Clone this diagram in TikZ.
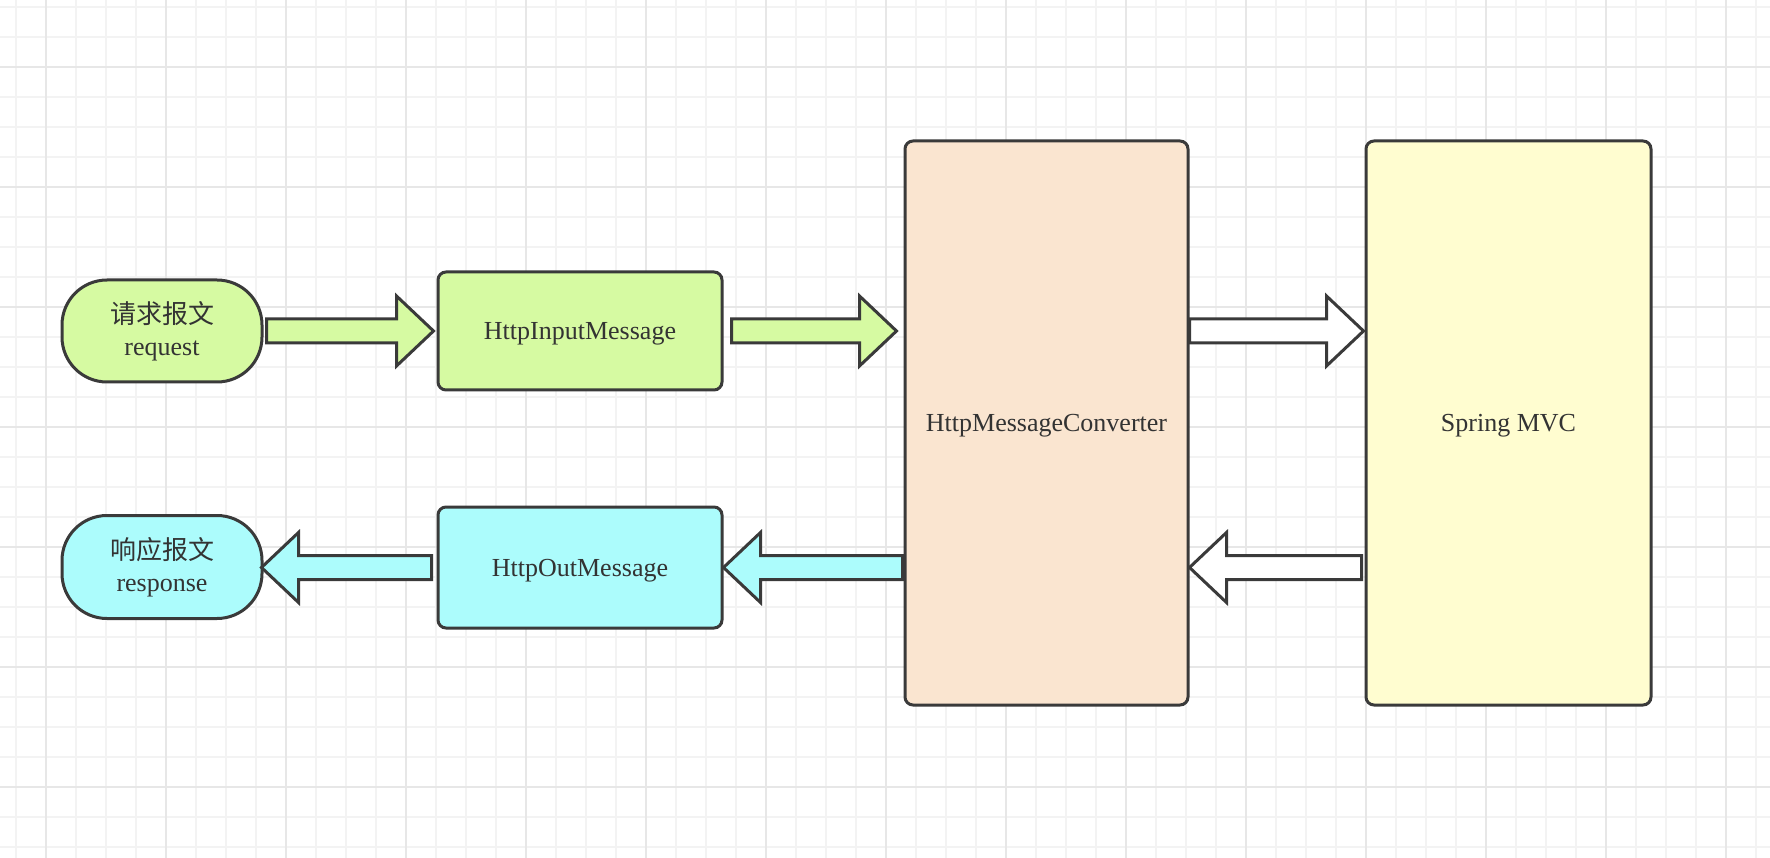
\documentclass[tikz,border=0pt]{standalone}
\usepackage{fontspec}
\setmainfont{Liberation Serif}
\newfontfamily\cjk{Noto Sans CJK SC}
\usetikzlibrary{calc}
\definecolor{gminor}{HTML}{F3F3F3}
\definecolor{gmajor}{HTML}{E7E7E7}
\definecolor{edge}{HTML}{3A3A3A}
\definecolor{txt}{HTML}{333333}
\definecolor{cgreen}{HTML}{D6FAA2}
\definecolor{ccyan}{HTML}{ACFCFC}
\definecolor{cpeach}{HTML}{FAE5D0}
\definecolor{cyellow}{HTML}{FFFDD0}
\tikzset{
  shapebase/.style={draw=edge, line width=3pt, text=txt,
    font=\fontsize{26}{32}\selectfont, align=center, inner sep=0pt},
  box/.style={shapebase, rounded corners=8pt, text height=17.5pt, text depth=0pt},
  pill/.style={shapebase, rounded corners=45pt},
  arrowline/.style={draw=edge, line width=3pt, line join=miter},
}
\newcommand\fatarrow[3][]{%
  \draw[arrowline,#1] let \p1=(#2),\p2=(#3),\n1={sign(\x2-\x1)} in
   (\x1,\y1+12pt) -- (\x2-\n1*37pt,\y1+12pt) -- (\x2-\n1*37pt,\y1+35pt) --
   (\x2,\y1) -- (\x2-\n1*37pt,\y1-35pt) -- (\x2-\n1*37pt,\y1-12pt) --
   (\x1,\y1-12pt) -- cycle;}
\begin{document}
\begin{tikzpicture}[x=1pt,y=-1pt]
\useasboundingbox (0,0) rectangle (1770,858);
\fill[white] (0,0) rectangle (1770,858);
% grid
\foreach \i in {16,46,...,1770} \draw[gminor,line width=2pt] (\i,0) -- (\i,858);
\foreach \j in {7,37,...,858} \draw[gminor,line width=2pt] (0,\j) -- (1770,\j);
\foreach \i in {46,166,...,1770} \draw[gmajor,line width=2pt] (\i,0) -- (\i,858);
\foreach \j in {67,187,...,858} \draw[gmajor,line width=2pt] (0,\j) -- (1770,\j);
% nodes
\node[pill, fill=cgreen, minimum width=200pt, minimum height=102pt] (req) at (162,331)
  {{\cjk 请求报文}\\request};
\node[pill, fill=ccyan, minimum width=200pt, minimum height=103pt] (resp) at (162,567)
  {{\cjk 响应报文}\\response};
\node[box, fill=cgreen, minimum width=284pt, minimum height=118pt] (in) at (580,331)
  {HttpInputMessage};
\node[box, fill=ccyan, minimum width=284pt, minimum height=121pt] (out) at (580,567.5)
  {HttpOutMessage};
\node[box, fill=cpeach, minimum width=283pt, minimum height=564pt] (conv) at (1046.5,423)
  {HttpMessageConverter};
\node[box, fill=cyellow, minimum width=285pt, minimum height=564pt] (spring) at (1508.5,423)
  {Spring MVC};
% arrow end points
\coordinate (a1s) at ($(req.east)+(3,0)$);
\coordinate (a1t) at ($(in.west)+(-3,0)$);
\coordinate (a2s) at ($(in.east)+(8,0)$);
\coordinate (a2t) at ($(conv.west |- in.west)+(-7,0)$);
\coordinate (a3s) at (conv.east |- in.east);
\coordinate (a3t) at ($(spring.west |- in.east)+(-1,0)$);
\coordinate (a4s) at ($(spring.west |- out.east)+(-3,0)$);
\coordinate (a4t) at (conv.east |- out.east);
\coordinate (a5s) at ($(out.west)+(-5,0)$);
\coordinate (a5t) at ($(resp.east)+(-2,0)$);
\coordinate (a6s) at ($(conv.west |- out.east)+(-1,0)$);
\coordinate (a6t) at (out.east);
% arrows
\fatarrow[fill=cgreen]{a1s}{a1t}
\fatarrow[fill=cgreen]{a2s}{a2t}
\fatarrow[fill=white]{a3s}{a3t}
\fatarrow[fill=white]{a4s}{a4t}
\fatarrow[fill=ccyan]{a5s}{a5t}
\fatarrow[fill=ccyan]{a6s}{a6t}
\end{tikzpicture}
\end{document}
